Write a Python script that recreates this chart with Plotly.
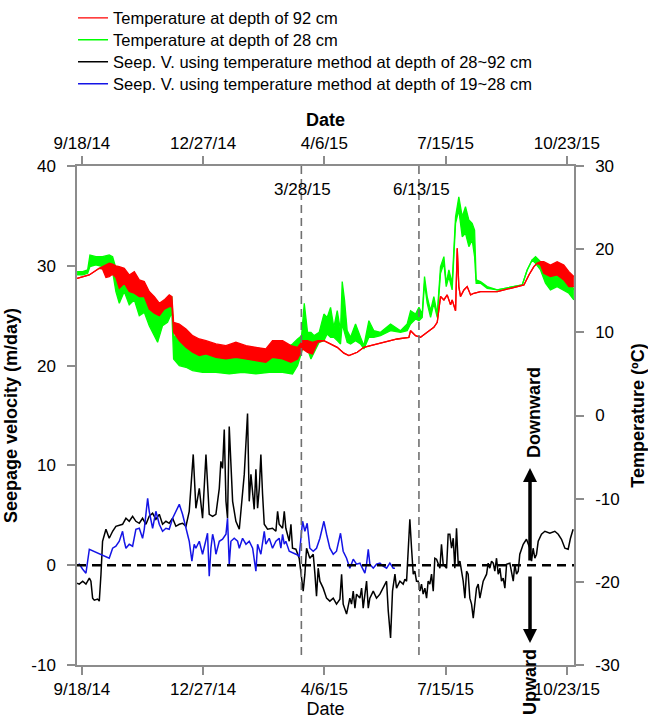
import pandas as pd
import plotly.graph_objects as go

start_date = "2014-09-18"

# ---- Seepage velocity (m/day), day offsets from start_date ----
black_days = [-4, -2.2, 0.6, 3.3, 6.1, 7.4, 8.8, 10.2, 12.9, 14.3, 15.7, 17.0, 19.8, 22.5, 25.3, 28.0,
              33.5, 36.3, 39.0, 41.8, 44.5, 47.3, 50.0, 52.8, 55.5, 58.3, 61.0, 63.8, 66.5, 69.3, 72.0,
              74.8, 77.5, 80.3, 83.0, 85.8, 88.5, 89.9, 91.8, 94.0, 96.8, 99.5, 100.9, 102.3, 105.0,
              107.8, 110.5, 113.3, 114.6, 116.0, 117.4, 118.8, 120.1, 121.5, 124.3, 127.0, 129.8, 132.5,
              133.9, 136.6, 138.0, 139.4, 140.8, 142.1, 143.5, 144.9, 146.3, 147.6, 149.0, 150.4, 153.1,
              157.2, 160.0, 161.4, 162.7, 165.5, 166.9, 168.2, 171.0, 172.4, 173.7, 176.5, 179.2,
              181.2, 182.5, 183.9, 185.3, 188.0, 190.8, 192.2, 193.5, 194.9, 196.3, 199.0, 201.8, 204.5,
              207.3, 210.0, 212.8, 214.2, 215.5, 218.3, 221.0, 222.4, 223.8, 225.2, 226.5, 229.3, 230.7,
              232.0, 234.8, 236.2, 237.5, 240.3, 243.0, 245.8, 248.5, 251.3, 252.7, 254.6, 256.2, 258.2,
              259.5, 262.3, 265.0, 266.4, 267.8, 269.1, 270.5, 271.9, 273.3, 274.6, 276.0, 277.4, 278.8,
              280.1, 281.5, 282.9, 284.3, 285.6, 287.0, 288.4, 289.8, 291.1, 292.5, 295.3, 296.6, 298.0,
              300.8, 302.1, 303.5, 304.9, 306.3, 307.6, 309.0, 310.4, 311.8, 314.5, 315.9, 317.3, 318.6,
              320.0, 321.4, 322.8, 325.5, 326.9, 328.3, 331.0, 333.8, 335.1, 336.5, 337.9, 339.3, 340.6,
              342.0, 343.4, 344.8, 346.1, 347.5, 348.9, 350.3, 353.0, 355.8, 357.1, 358.5, 359.9, 361.2,
              364.0, 366.7, 369.5, 370.9, 372.2, 373.6, 375.0, 376.4, 379.1, 381.9, 386.0, 390.1, 392.9,
              395.6, 398.4, 401.1, 403.0, 405.2]
black_seepage = [-1.8, -1.9, -1.6, -1.9, -1.3, -1.6, -3.3, -3.5, -3.4, -3.6, -0.9, 2.4, 3.6, 2.7, 3.4, 3.9,
                 4.1, 4.7, 4.4, 4.9, 4.4, 4.2, 4.7, 4.1, 4.9, 5.2, 4.6, 5.1, 4.1, 4.4, 4.2,
                 4.7, 3.9, 4.1, 4.2, 3.9, 5.4, 8.1, 11.1, 5.7, 7.7, 4.7, 7.4, 11.1, 5.1,
                 4.9, 5.1, 7.7, 10.4, 9.7, 13.6, 6.4, 4.7, 13.9, 6.4, 4.4, 3.6, 7.7,
                 9.1, 15.2, 6.4, 9.1, 7.1, 5.6, 9.6, 5.7, 7.7, 11.1, 7.1, 4.1, 3.6,
                 3.7, 3.4, 5.4, 4.1, 3.7, 5.4, 3.7, 2.4, 4.1, 1.7, 1.6, 0.7,
                 -1.6, -2.6, -0.9, 1.7, 0.7, 1.1, -0.9, -3.1, -0.3, -1.6, -2.3, -3.3, -3.6,
                 -3.3, -3.9, -3.4, -0.9, -3.9, -4.9, -3.3, -3.9, -2.6, -4.3, -2.9, -3.3, -2.3,
                 -4.3, -1.6, -4.3, -3.3, -2.6, -3.3, -2.9, -2.3, -1.6, -4.6, -7.3, -2.6, -0.9,
                 -2.3, -1.6, -1.9, -1.4, -1.6, 1.7, 4.6, 1.7, -0.9, -0.6, -1.6, -1.6, -2.6,
                 -1.9, -2.9, -2.3, -3.3, -1.6, -1.9, -0.9, -2.6, 0.7, 0.6, -0.3, 2.1, 0.1,
                 -0.3, 3.1, 3.1, 1.7, 2.7, -0.3, 3.7, 0.1, 0.4, -1.6, -3.3, -0.6, -0.9,
                 -3.3, -3.9, -5.3, -2.3, -1.9, -3.3, -1.6, -0.9, 0.2, -0.3, 0.4, 0.2, -0.6,
                 0.7, -0.9, -0.3, -1.6, -1.3, -2.3, 0.1, 0.2, -1.6, 0.1, -0.9, -0.6, 1.1,
                 2.1, 2.6, 1.7, 0.4, 1.7, 0.7, 1.1, 2.4, 3.1, 3.4, 3.2, 3.4, 3.1,
                 2.6, 1.7, 1.6, 2.7, 3.6]

blue_days = [-4, -2.2, 0.6, 3.3, 6.1, 22.5, 25.3, 28.0, 30.8, 33.5, 34.9, 36.3, 39.0, 41.8, 44.5, 47.3,
             50.0, 51.4, 54.2, 55.5, 58.3, 61.0, 63.8, 66.5, 69.3, 72.0, 74.8, 77.5, 80.3, 83.0, 85.8,
             88.5, 90.7, 92.6, 94.0, 96.8, 99.5, 102.3, 103.6, 105.0, 106.4, 107.8, 109.1, 110.5, 113.3,
             116.0, 118.8, 120.1, 121.5, 122.9, 125.6, 128.4, 129.8, 132.5, 135.3, 138.0, 140.8, 143.5,
             144.9, 147.6, 150.4, 151.7, 154.5, 157.2, 160.0, 162.7, 164.1, 165.5, 166.9, 168.2, 171.0,
             176.5, 179.2, 182.0, 183.9, 185.8, 188.0, 190.8, 193.5, 196.3, 199.6, 201.8, 204.5, 207.3,
             210.0, 213.3, 215.5, 218.3, 221.0, 223.8, 226.5, 229.3, 232.0, 233.4, 234.8, 236.2, 237.5,
             240.3, 243.0, 245.8, 248.5, 251.3, 254.0, 256.8, 258.2]
blue_seepage = [0.0, 0.1, -0.4, -0.8, 1.6, 0.7, 1.7, 1.9, 2.4, 3.4, 2.4, 1.7, 2.1, 1.9, 3.6, 3.7,
                2.7, 3.6, 6.7, 5.4, 3.7, 5.4, 4.1, 3.4, 3.7, 3.6, 4.7, 5.4, 6.1, 5.1, 3.7,
                2.4, 0.4, 2.1, 1.7, 2.4, 1.1, 2.7, 3.2, -1.1, 1.7, 3.1, 2.4, 1.1, 2.4,
                2.6, 3.1, 4.7, 0.1, 2.4, 2.7, 2.4, 1.7, 2.7, 2.1, 2.4, 1.7, -0.6,
                2.1, 1.1, 3.4, 2.1, 2.7, 1.7, 2.4, 2.7, 1.7, 3.1, 2.1, 2.4, 1.4,
                1.1, 0.9, 4.4, 3.4, 4.2, 1.7, 1.4, 1.7, 2.7, 4.4, 3.1, 1.7, 1.1,
                1.4, 3.2, 1.4, 0.7, -0.3, 0.6, 0.1, 0.2, -0.4, -0.8, 0.1, 1.6, 0.1,
                -0.3, 0.1, 0.2, -0.1, -0.3, 0.2, -0.3, -0.3]

# ---- Temperature (deg C): upper / lower envelope of the daily fluctuation ----
red_days = [-4, 6.0, 14.3, 17.0, 19.8, 22.5, 25.3, 28.0, 30.8, 34.9, 39.0, 43.2, 47.3, 51.4, 55.5,
            59.7, 63.8, 67.9, 72.0, 74.2, 75.6, 80.3, 85.8, 91.3, 96.8, 102.3, 110.5, 118.8, 127.0,
            135.3, 143.5, 151.7, 157.2, 165.5, 172.4, 177.9, 182.0, 186.1, 190.2, 194.4, 199.6, 205.1,
            210.6, 216.1, 220.2, 227.1, 232.6, 238.1, 249.1, 260.1, 269.7, 271.1, 275.2, 279.3, 284.8,
            290.3, 293.1, 295.8, 298.6, 301.3, 304.1, 305.4, 308.2, 309.6, 310.9, 312.3, 315.1, 317.8,
            320.6, 323.3, 328.8, 342.6, 353.6, 364.6, 368.7, 372.8, 375.5, 378.3, 381.0, 386.5, 392.0,
            397.5, 401.7, 405.8]
red_temp_high = [16.5, 16.9, 17.7, 17.9, 18.2, 18.3, 18.2, 18.0, 17.9, 17.7, 16.9, 17.3, 16.3, 16.1, 14.9,
                 14.3, 13.5, 13.9, 14.5, 14.3, 11.2, 11.0, 10.4, 9.6, 9.2, 9.0, 8.6, 8.4, 8.8,
                 8.4, 8.2, 8.0, 9.0, 9.0, 8.4, 8.2, 9.0, 9.0, 8.8, 9.0, 9.0, 8.6,
                 8.2, 7.5, 7.2, 7.6, 8.2, 8.4, 8.8, 9.2, 9.4, 10.2, 9.6, 9.4, 10.0,
                 10.6, 11.2, 14.3, 13.9, 14.5, 13.3, 13.9, 12.6, 20.1, 15.5, 14.3, 15.1, 15.5,
                 14.5, 14.7, 14.9, 14.9, 15.3, 15.7, 16.9, 17.9, 18.3, 18.5, 18.5, 18.1, 18.5,
                 18.1, 17.3, 16.7]
red_temp_low = [16.5, 16.9, 17.7, 17.6, 16.6, 16.7, 17.0, 16.6, 15.3, 15.9, 14.9, 14.7, 14.3, 14.3, 12.8,
                12.3, 12.0, 12.8, 13.1, 13.1, 10.0, 9.0, 8.2, 7.6, 7.2, 7.4, 7.0, 6.8, 7.0,
                6.8, 6.6, 6.4, 7.0, 6.8, 6.4, 6.8, 8.0, 7.6, 7.4, 8.8, 9.0, 8.6,
                8.2, 7.5, 7.2, 7.6, 8.2, 8.4, 8.8, 9.2, 9.4, 10.2, 9.6, 9.4, 10.0,
                10.6, 11.2, 14.3, 13.9, 14.5, 13.3, 13.9, 12.6, 20.1, 15.5, 14.3, 15.1, 15.5,
                14.5, 14.7, 14.9, 14.9, 15.3, 15.7, 16.9, 17.9, 18.3, 18.1, 17.1, 16.7, 16.9,
                16.3, 15.5, 15.5]

green_days = [-4, 0.6, 4.7, 6.6, 11.5, 17.0, 22.5, 25.3, 28.0, 30.8, 34.9, 39.0, 43.2, 47.3, 51.4,
              55.5, 59.7, 62.4, 66.5, 70.6, 74.2, 75.6, 80.3, 85.8, 91.3, 99.5, 110.5, 121.5, 132.5,
              143.5, 154.5, 165.5, 173.7, 177.9, 181.2, 183.4, 186.1, 188.9, 191.6, 195.7, 199.6, 202.3,
              205.1, 207.8, 210.6, 213.3, 214.7, 216.6, 218.8, 221.6, 225.7, 229.8, 232.6, 236.7, 240.8,
              246.3, 254.6, 262.8, 268.3, 271.1, 275.2, 278.0, 280.7, 282.6, 284.8, 287.6, 290.3, 293.1,
              295.8, 298.6, 300.5, 302.7, 305.4, 308.2, 310.9, 313.7, 316.4, 319.2, 321.9, 323.9, 325.2,
              328.8, 334.3, 342.6, 353.6, 363.2, 367.3, 371.4, 374.2, 378.3, 382.4, 386.5, 392.0, 397.5,
              401.7, 405.8]
green_temp_high = [17.3, 17.3, 17.5, 19.3, 19.1, 19.1, 19.3, 19.1, 17.7, 17.3, 16.9, 16.5, 16.1, 15.7, 15.3,
                   14.1, 13.3, 12.9, 13.3, 13.7, 14.3, 9.6, 9.2, 8.6, 7.8, 7.4, 7.2, 7.4, 7.6,
                   7.2, 7.6, 7.8, 8.6, 9.2, 9.6, 13.5, 10.0, 10.0, 9.6, 10.0, 12.2, 11.8,
                   13.0, 10.6, 12.6, 10.2, 16.1, 13.9, 10.2, 9.4, 11.0, 9.4, 8.4, 11.4, 10.2,
                   10.0, 11.0, 10.2, 11.0, 12.6, 12.2, 13.0, 12.2, 16.7, 14.3, 12.6, 14.3, 12.2,
                   17.9, 19.1, 15.9, 17.5, 15.9, 23.9, 26.3, 23.9, 25.1, 23.5, 23.1, 22.3, 16.3,
                   16.1, 15.5, 15.1, 15.4, 15.7, 17.5, 18.7, 19.1, 18.5, 17.5, 17.7, 17.3, 17.1,
                   16.7, 15.1]
green_temp_low = [16.9, 16.9, 17.1, 17.9, 18.1, 17.9, 18.1, 17.3, 14.9, 13.5, 14.9, 13.3, 13.9, 12.0, 12.4,
                  10.8, 9.6, 8.8, 10.8, 11.2, 12.4, 6.8, 6.0, 5.8, 5.4, 5.2, 5.2, 5.0, 5.2,
                  5.0, 5.2, 5.2, 5.0, 6.0, 7.6, 9.2, 8.0, 6.8, 7.6, 8.8, 9.0, 9.8,
                  9.4, 9.4, 9.0, 8.6, 11.0, 9.8, 8.8, 8.6, 9.0, 8.6, 8.0, 9.4, 9.4,
                  9.6, 10.2, 10.0, 10.2, 11.0, 11.6, 11.4, 11.8, 15.9, 13.5, 11.8, 13.5, 11.8,
                  17.1, 18.3, 15.5, 16.7, 15.1, 23.1, 24.7, 21.5, 21.9, 20.3, 21.1, 19.1, 15.9,
                  15.9, 15.3, 15.1, 15.4, 15.7, 17.5, 18.7, 18.3, 17.5, 15.9, 15.1, 15.5, 15.1,
                  14.7, 13.9]

tick_dates = ["2014-09-18", "2014-12-27", "2015-04-06", "2015-07-15", "2015-10-23"]
tick_labels = ["9/18/14", "12/27/14", "4/6/15", "7/15/15", "10/23/15"]
seep_ticks = [-10, 0, 10, 20, 30, 40]
seep_tick_labels = ["-10", "0", "10", "20", "30", "40"]
temp_ticks = [-30, -20, -10, 0, 10, 20, 30]
temp_tick_labels = ["-30", "-20", "-10", "0", "10", "20", "30"]
event_dates = ["2015-03-18", "2015-06-23"]
event_labels = ["3/28/15", "6/13/15"]
x_range = ["2014-09-13 22:00", "2015-10-28 22:00"]
seep_range = [-10, 40]
temp_range = [-30, 30]

names = ["Temperature at depth of 92 cm", "Temperature at depth of 28 cm",
         "Seep. V. using temperature method at depth of 28~92 cm",
         "Seep. V. using temperature method at depth of 19~28 cm"]

FONT = "Liberation Sans, Arial, sans-serif"
AXIS_GREY = "#8c8c8c"
RED, GREEN, BLACK, BLUE = "#ff0000", "#00ff00", "#000000", "#1414e6"


def to_dates(days):
    return list(pd.Timestamp(start_date) + pd.to_timedelta(days, unit="D"))


fig = go.Figure()

# temperature bands (green below red)
for days, lo, hi, col, name, leg in [
        (green_days, green_temp_low, green_temp_high, GREEN, names[1], "legend2"),
        (red_days, red_temp_low, red_temp_high, RED, names[0], "legend")]:
    xd = to_dates(days)
    fig.add_trace(go.Scatter(x=xd, y=lo, yaxis="y2", mode="lines", name=name, legend=leg,
                             line=dict(color=col, width=1.3), hoverinfo="skip"))
    fig.add_trace(go.Scatter(x=xd, y=hi, yaxis="y2", mode="lines", fill="tonexty", fillcolor=col,
                             showlegend=False, legend=leg, line=dict(color=col, width=1.3),
                             hoverinfo="skip"))

fig.add_trace(go.Scatter(x=to_dates(black_days), y=black_seepage, mode="lines", name=names[2],
                         legend="legend3", line=dict(color=BLACK, width=1.5)))
fig.add_trace(go.Scatter(x=to_dates(blue_days), y=blue_seepage, mode="lines", name=names[3],
                         xaxis="x2", legend="legend4", line=dict(color=BLUE, width=1.5)))

# zero line
fig.add_shape(type="line", xref="paper", x0=0, x1=1, yref="y", y0=0, y1=0,
              line=dict(color="black", width=2.5, dash="9px,6px"))
# event lines and labels
for d, lab, shift in zip(event_dates, event_labels, [1, 3]):
    fig.add_shape(type="line", xref="x", x0=d, x1=d, yref="paper", y0=0.02, y1=1,
                  line=dict(color="#707070", width=1.6, dash="8px,5px"))
    fig.add_annotation(x=d, y=0.952, xref="x", yref="paper", text=lab, showarrow=False,
                       xanchor="center", yanchor="middle", xshift=shift,
                       font=dict(family=FONT, size=17, color="black"))

# flow direction arrows
for tip_y, tail in [(0.3948, 94), (0.0441, -68)]:
    fig.add_annotation(x=0.9115, y=tip_y, xref="paper", yref="paper", ax=0, ay=tail, text="",
                       xanchor="center", yanchor="middle", showarrow=True, arrowhead=2,
                       arrowsize=0.8, arrowwidth=3.5, arrowcolor="black")
for txt, tx, ty in [("Downward", 0.9195, 0.507), ("Upward", 0.9115, -0.034)]:
    fig.add_annotation(x=tx, y=ty, xref="paper", yref="paper", text=txt, textangle=-90,
                       xanchor="center", yanchor="middle", showarrow=False,
                       font=dict(family=FONT, size=18, color="black", weight="bold"))

axis_common = dict(showline=True, linecolor=AXIS_GREY, linewidth=1.5, ticks="outside", ticklen=8,
                   tickwidth=1.5, tickcolor=AXIS_GREY, showgrid=False, zeroline=False,
                   automargin=False, tickfont=dict(family=FONT, size=17, color="black"))

leg_common = dict(x=-0.008, xanchor="left", yanchor="middle", bgcolor="rgba(0,0,0,0)",
                  font=dict(family=FONT, size=16.5, color="black"))

fig.update_layout(
    width=648, height=722, autosize=False,
    margin=dict(l=77, r=74, t=166, b=57, pad=0, autoexpand=False),
    paper_bgcolor="white", plot_bgcolor="white",
    font=dict(family=FONT, color="black"),
    showlegend=True,
    legend=dict(y=1.2963, **leg_common),
    legend2=dict(y=1.2525, **leg_common),
    legend3=dict(y=1.2084, **leg_common),
    legend4=dict(y=1.1643, **leg_common),
    xaxis=dict(range=x_range, tickmode="array", tickvals=tick_dates, ticktext=tick_labels,
               title=dict(text="Date", font=dict(family=FONT, size=18), standoff=3),
               **axis_common),
    xaxis2=dict(range=x_range, tickmode="array", tickvals=tick_dates, ticktext=tick_labels,
                overlaying="x", side="top", anchor="y", matches="x",
                title=dict(text="Date", font=dict(family=FONT, size=18, weight="bold"), standoff=3),
                **axis_common),
    yaxis=dict(range=seep_range, tickmode="array", tickvals=seep_ticks, ticktext=seep_tick_labels,
               ticklabelstandoff=8,
               title=dict(text="Seepage velocity (m/day)", font=dict(family=FONT, size=18, weight="bold"),
                          standoff=9),
               **axis_common),
    yaxis2=dict(range=temp_range, tickmode="array", tickvals=temp_ticks, ticktext=temp_tick_labels,
                overlaying="y", side="right", anchor="x", ticklabelstandoff=8,
                title=dict(text="Temperature (ºC)", font=dict(family=FONT, size=18, weight="bold"),
                           standoff=15),
                **axis_common),
)

fig.write_html("out.html", config={"displayModeBar": False},
               post_script="document.body.style.margin='0';")
